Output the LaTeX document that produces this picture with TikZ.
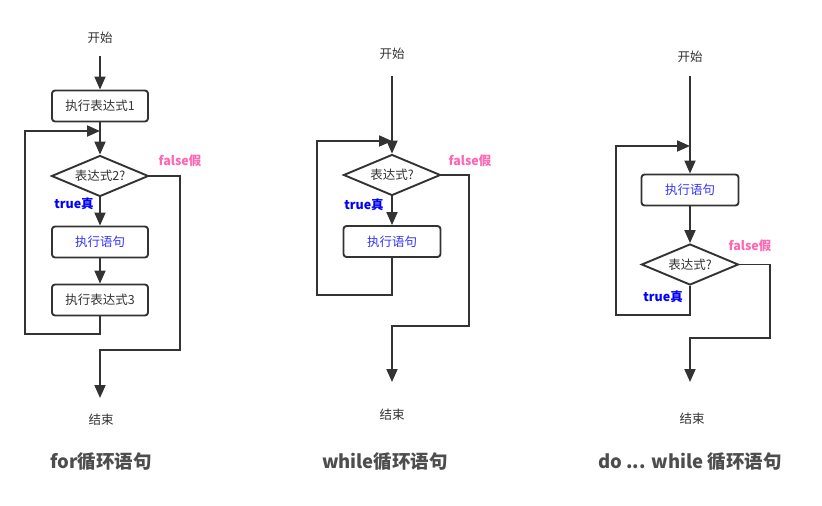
\documentclass[tikz,border=0pt]{standalone}
\usepackage{fontspec}
\setmainfont{Noto Sans CJK SC}
\usetikzlibrary{arrows.meta,shapes.geometric}
\definecolor{lnc}{HTML}{333333}
\definecolor{pk}{HTML}{FF66B3}
\definecolor{bl}{HTML}{0000FF}
\definecolor{bt}{HTML}{3333FF}
\definecolor{tt}{HTML}{4D4D4D}
\begin{document}
\begin{tikzpicture}[x=1pt,y=-1pt,
  font=\fontsize{12.5}{14}\selectfont,
  box/.style={draw=lnc, line width=1.9pt, rounded corners=3pt, minimum width=96pt, minimum height=31pt, inner sep=0pt, text=lnc},
  dec/.style={draw=lnc, line width=1.9pt, shape=diamond, aspect=2.4, minimum width=97pt, minimum height=41pt, inner sep=0pt, text=lnc},
  arr/.style={draw=lnc, line width=1.9pt, -{Triangle[length=13pt,width=11pt]}},
  lbl/.style={text=lnc},
  fl/.style={text=pk, font=\fontsize{12.5}{14}\selectfont\bfseries},
  tr/.style={text=bl, font=\fontsize{12.5}{14}\selectfont\bfseries},
  ttl/.style={text=tt, font=\fontsize{18.5}{20}\selectfont\bfseries}]
\fill[white] (0,0) rectangle (822,506);
\useasboundingbox (0,0) rectangle (822,506);

% ---------- for ----------
\node[lbl] (st1) at (100,38) {开始};
\coordinate (s1) at (100,56);
\node[box] (b1) at (100,106) {执行表达式1};
\node[dec] (d1) at (100,176) {表达式2?};
\node[box, text=bt] (b2) at (100,242) {执行语句};
\node[box] (b3) at (100,300) {执行表达式3};
\coordinate (j1) at (100,131);
\coordinate (l1) at (25,334);
\coordinate (f1) at (180,350);
\coordinate (e1) at (100,398);
\node[lbl] (en1) at (101,420) {结束};
\node[fl] (fa1) at (180,161) {false假};
\node[tr] (tr1) at (74,204) {true真};
\node[ttl] (t1) at (101,462) {for循环语句};
\draw[arr] (s1) -- (b1);
\draw[arr] (b1) -- (d1);
\draw[arr] (d1) -- (b2);
\draw[arr] (b2) -- (b3);
\draw[arr] (b3.south) |- (l1) |- (j1);
\draw[arr] (d1.east) -| (f1) -| (e1);

% ---------- while ----------
\node[lbl] (st2) at (392,54) {开始};
\coordinate (s2) at (392,76);
\node[dec] (d2) at (392,175) {表达式?};
\node[box, text=bt, minimum width=97pt] (b4) at (392,241.5) {执行语句};
\coordinate (j2) at (392,141);
\coordinate (l2) at (317,295);
\coordinate (f2) at (469,326);
\coordinate (e2) at (392,382);
\node[lbl] (en2) at (392,415) {结束};
\node[fl] (fa2) at (470,161) {false假};
\node[tr] (tr2) at (364,205) {true真};
\node[ttl] (t2) at (385,462) {while循环语句};
\draw[arr] (s2) -- (d2);
\draw[arr] (d2) -- (b4);
\draw[arr] (b4.south) |- (l2) |- (j2);
\draw[arr] (d2.east) -| (f2) -| (e2);

% ---------- do while ----------
\node[lbl] (st3) at (690,57) {开始};
\coordinate (s3) at (690,76);
\node[box, text=bt, minimum width=97pt] (b5) at (690,190) {执行语句};
\node[dec] (d3) at (690,264.5) {表达式?};
\coordinate (j3) at (690,146);
\coordinate (l3) at (616,315);
\coordinate (f3) at (770,338);
\coordinate (e3) at (690,382);
\node[lbl] (en3) at (692,419) {结束};
\node[fl] (fa3) at (750,246) {false假};
\node[tr] (tr3) at (663,297) {true真};
\node[ttl] (t3) at (690,462) {do ... while 循环语句};
\draw[arr] (s3) -- (b5);
\draw[arr] (b5) -- (d3);
\draw[arr] (d3.south) |- (l3) |- (j3);
\draw[arr] (d3.east) -| (f3) -| (e3);
\end{tikzpicture}
\end{document}
